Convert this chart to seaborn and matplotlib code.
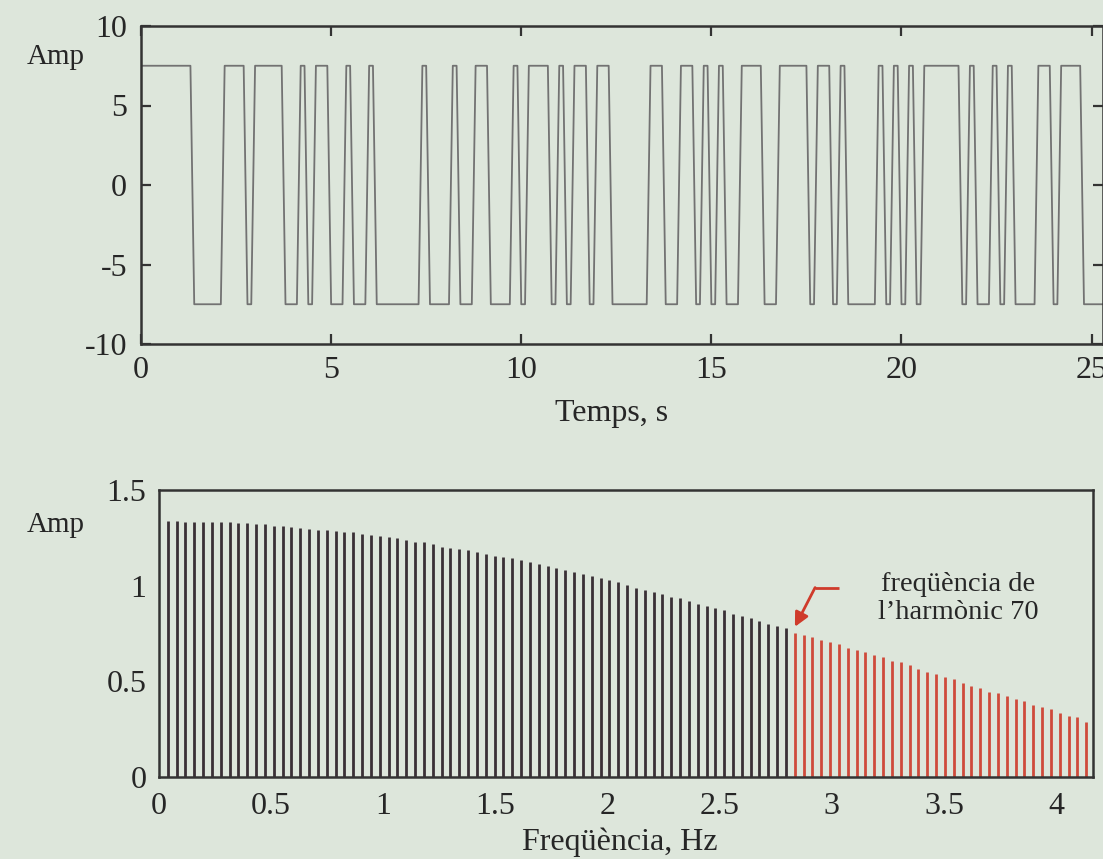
import numpy as np
import pandas as pd
import matplotlib
matplotlib.use("Agg")
import matplotlib.pyplot as plt
import seaborn as sns

# ---------------- data ----------------
# PRBS bit sequence (1 = +level, 0 = -level), bit time 0.2 s
prbs_bits = [
    1, 1, 1, 1, 1, 1, 1, 0, 0, 0,
    0, 1, 1, 1, 0, 1, 1, 1, 1, 0,
    0, 1, 0, 1, 1, 0, 0, 1, 0, 0,
    1, 0, 0, 0, 0, 0, 0, 1, 0, 0,
    0, 1, 0, 0, 1, 1, 0, 0, 0, 1,
    0, 1, 1, 1, 0, 1, 0, 1, 1, 0,
    1, 1, 0, 0, 0, 0, 0, 1, 1, 0,
    0, 1, 1, 0, 1, 0, 1, 0, 0, 1,
    1, 1, 0, 0, 1, 1, 1, 1, 0, 1,
    1, 0, 1, 0, 0, 0, 0, 1, 0, 1,
    0, 1, 0, 1, 1, 1, 1, 1, 0, 1,
    0, 0, 1, 0, 1, 0, 0, 0, 1, 1,
    0, 1, 1, 1, 0, 0, 0,
]
signal_level = 7.5          # amplitude of the binary signal
bit_time = 0.2              # s
sample_time = 0.1           # s (two samples per bit)

# Spectrum: harmonic amplitudes
period = 25.4               # s (fundamental = 1/period)
harmonics = list(range(1, 106))
harmonic_amp = [
    1.336, 1.336, 1.335, 1.335, 1.334, 1.334, 1.333, 1.332, 1.326, 1.325,
    1.324, 1.322, 1.313, 1.311, 1.309, 1.300, 1.298, 1.291, 1.289, 1.286,
    1.282, 1.278, 1.269, 1.263, 1.260, 1.253, 1.248, 1.239, 1.228, 1.226,
    1.216, 1.204, 1.196, 1.194, 1.187, 1.175, 1.166, 1.156, 1.151, 1.143,
    1.134, 1.122, 1.112, 1.103, 1.091, 1.082, 1.070, 1.061, 1.051, 1.042,
    1.030, 1.021, 1.004, 0.986, 0.978, 0.969, 0.957, 0.943, 0.934, 0.922,
    0.903, 0.894, 0.882, 0.873, 0.850, 0.842, 0.830, 0.817, 0.800, 0.791,
    0.777, 0.754, 0.742, 0.733, 0.716, 0.704, 0.694, 0.673, 0.664, 0.655,
    0.638, 0.629, 0.606, 0.600, 0.585, 0.563, 0.550, 0.538, 0.521, 0.510,
    0.490, 0.477, 0.467, 0.446, 0.437, 0.425, 0.406, 0.397, 0.376, 0.364,
    0.354, 0.336, 0.321, 0.312, 0.289,
]
red_from_harmonic = 72

top_xticks = [0, 5, 10, 15, 20, 25]
top_yticks = [-10, -5, 0, 5, 10]
bot_xticks = [0, 0.5, 1, 1.5, 2, 2.5, 3, 3.5, 4]
bot_xticklabels = ["0", "0.5", "1", "1.5", "2", "2.5", "3", "3.5", "4"]
bot_yticks = [0, 0.5, 1, 1.5]
bot_yticklabels = ["0", "0.5", "1", "1.5"]

annot_text = "freqüència de\nl\u2019harmònic 70"

# ---------------- build tables ----------------
samples_per_bit = int(round(bit_time / sample_time))
vals = np.repeat(np.where(np.array(prbs_bits) == 1, signal_level, -signal_level), samples_per_bit)
sig_df = pd.DataFrame({"t": np.arange(len(vals)) * sample_time, "amp": vals})

spec_df = pd.DataFrame({"k": harmonics, "amp": harmonic_amp})
spec_df["f"] = spec_df["k"] / period
spec_df["grp"] = np.where(spec_df["k"] >= red_from_harmonic, "red", "black")

# ---------------- style ----------------
sns.set_theme(style="ticks")
plt.rcParams["font.family"] = ["Liberation Serif", "DejaVu Serif"]
plt.rcParams["axes.unicode_minus"] = False
bg = "#dde6db"
txt = "#262626"
spine_c = "#333333"
plt.rcParams["text.color"] = txt
plt.rcParams["axes.labelcolor"] = txt
plt.rcParams["xtick.color"] = spine_c
plt.rcParams["ytick.color"] = spine_c
plt.rcParams["xtick.labelcolor"] = txt
plt.rcParams["ytick.labelcolor"] = txt

W, H = 1103, 859
fig = plt.figure(figsize=(W / 100, H / 100), dpi=100, facecolor=bg)

# ---------------- top: time signal ----------------
ax1 = fig.add_axes([141 / W, (H - 344) / H, (W - 141) / W, 318 / H], facecolor=bg)
sns.lineplot(data=sig_df, x="t", y="amp", ax=ax1, color="#727272", lw=1.3,
             estimator=None, sort=False)
ax1.set_xlim(0, 25.3)
ax1.set_ylim(-10, 10)
ax1.set_xticks(top_xticks)
ax1.set_yticks(top_yticks)
ax1.tick_params(direction="in", length=7, width=1.6, top=True, right=True,
                labelsize=23, pad=9)
ax1.tick_params(axis="y", pad=10)
for s in ax1.spines.values():
    s.set_linewidth(1.8)
    s.set_color(spine_c)
ax1.set_xlabel("Temps, s", fontsize=23, va="center")
ax1.xaxis.set_label_coords((612 - 141) / 962, (344 - 414) / 318)
ax1.set_ylabel("Amp", fontsize=21, rotation=0, ha="center", va="center")
ax1.yaxis.set_label_coords((56 - 141) / 962, (344 - 57) / 318)

# ---------------- bottom: spectrum ----------------
ax2 = fig.add_axes([159 / W, (H - 777) / H, 934 / W, 287 / H], facecolor=bg)
colors = {"black": "#3a3036", "red": "#cf4a3b"}
for grp, sub in spec_df.groupby("grp"):
    ax2.vlines(sub["f"], 0, sub["amp"], color=colors[grp], lw=2.0)
ax2.set_xlim(0, 4.164)
ax2.set_ylim(0, 1.5)
ax2.set_xticks(bot_xticks)
ax2.set_xticklabels(bot_xticklabels)
ax2.set_yticks(bot_yticks)
ax2.set_yticklabels(bot_yticklabels)
ax2.tick_params(length=0, labelsize=23, pad=11)
ax2.tick_params(axis="y", pad=9)
for s in ax2.spines.values():
    s.set_linewidth(1.8)
    s.set_color(spine_c)
ax2.set_xlabel("Freqüència, Hz", fontsize=23, va="center")
ax2.xaxis.set_label_coords((620 - 159) / 934, (777 - 842) / 287)
ax2.set_ylabel("Amp", fontsize=21, rotation=0, ha="center", va="center")
ax2.yaxis.set_label_coords((56 - 159) / 934, (777 - 525) / 287)

# annotation: red bent arrow and text
red = "#cf3b2b"
ax2.plot([3.032, 2.925], [0.988, 0.988], color=red, lw=2.0, solid_capstyle="butt")
ax2.annotate("", xy=(2.835, 0.785), xytext=(2.925, 0.990),
             arrowprops=dict(arrowstyle="-|>,head_length=0.7,head_width=0.35",
                             color=red, lw=2.0, shrinkA=0, shrinkB=0))
ax2.text(3.562, 0.935, annot_text, ha="center", va="center", fontsize=20.5,
         linespacing=1.15, color=txt)

fig.savefig("out.png", dpi=100, facecolor=bg)
